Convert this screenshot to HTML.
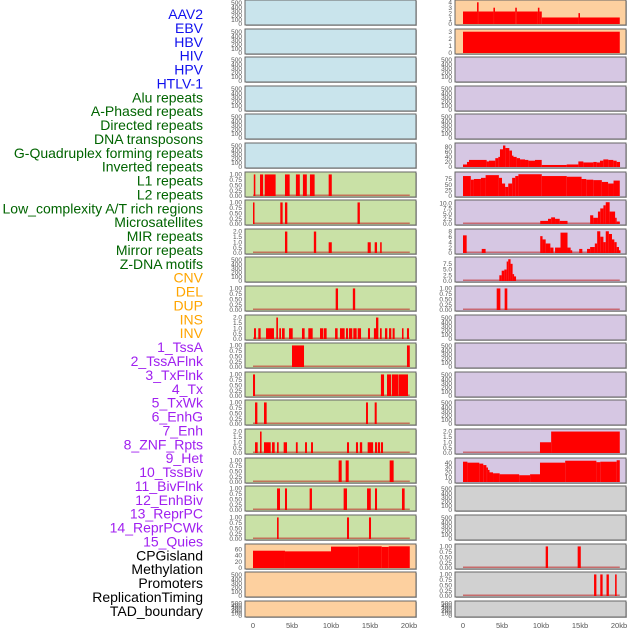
<!DOCTYPE html>
<html><head><meta charset="utf-8"><style>
html,body{margin:0;padding:0;background:#fff;}
svg{display:block;font-family:"Liberation Sans",sans-serif;}
</style></head><body>
<svg id="chart" width="630" height="630" viewBox="0 0 630 630"></svg>
<script>
const labels=["AAV2","EBV","HBV","HIV","HPV","HTLV-1","Alu repeats","A-Phased repeats","Directed repeats","DNA transposons","G-Quadruplex forming repeats","Inverted repeats","L1 repeats","L2 repeats","Low_complexity A/T rich regions","Microsatellites","MIR repeats","Mirror repeats","Z-DNA motifs","CNV","DEL","DUP","INS","INV","1_TssA","2_TssAFlnk","3_TxFlnk","4_Tx","5_TxWk","6_EnhG","7_Enh","8_ZNF_Rpts","9_Het","10_TssBiv","11_BivFlnk","12_EnhBiv","13_ReprPC","14_ReprPCWk","15_Quies","CPGisland","Methylation","Promoters","ReplicationTiming","TAD_boundary"];
const labelGroups=[6,13,5,15,5];
const groupColors=["#1010ee","#006400","#ffa500","#a020f0","#000000"];
const xTicks=[0,5,10,15,20];
const xTickLabels=["0","5kb","10kb","15kb","20kb"];
const rowTops=[0,29,57,86,114,143,172,200,229,257,286,315,343,372,400,429,458,486,515,544,572,601];
const leftFill=["b","b","b","b","b","b","g","g","g","g","g","g","g","g","g","g","g","g","g","o","o","o"];
const rightFill=["o","o","p","p","p","p","p","p","p","p","p","p","p","p","p","p","p","e","e","e","e","e"];
// bar intervals [startKb,endKb,height]
const L6=[[0.1,0.3,1],[0.9,1.3,1],[1.5,2.9,1],[4.1,4.7,1],[5.5,6.0,1],[6.4,6.9,1],[7.3,7.9,1],[9.7,10.1,1]];
const L7=[[0,0.15,1],[3.5,3.8,1],[4.1,4.4,1],[13.4,13.7,1]];
const L8=[[4.1,4.4,2],[7.8,8.1,2],[9.7,10.1,1],[14.7,15.1,1],[15.6,15.9,1],[16.3,16.5,1]];
const L10=[[10.6,10.9,1],[12.8,13.1,1]];
const L11=[[0.13,0.38,1],[0.68,0.98,1],[1.67,2.69,1],[2.99,3.2,2],[3.37,3.59,1],[3.72,4.06,1],[4.62,5.09,1],[6.28,6.62,1],[7.09,7.65,1],[8.59,9.02,1],[9.1,9.44,1],[10.52,10.85,1],[11.15,11.75,1],[11.92,12.18,1],[12.3,12.73,1],[12.86,13.29,1],[13.42,13.85,1],[14.74,15.0,1],[15.5,15.77,1],[15.77,16.07,2],[16.28,16.5,1],[16.92,17.22,1],[17.44,17.73,1],[17.9,18.16,1],[19.1,19.3,1],[19.74,20.0,1]];
const L12=[[5.0,6.54,1],[19.74,20.1,1]];
const L13=[[0,0.26,1],[16.4,16.8,1],[17.18,17.7,1],[17.8,18.6,1],[18.65,19.87,1]];
const L14=[[0.26,0.56,1],[1.41,1.75,1],[14.49,14.74,1],[15.6,15.86,1]];
const L15=[[0.26,0.6,1],[0.9,1.1,2],[1.41,2.27,1],[2.44,2.78,1],[3.08,3.29,1],[3.93,4.36,1],[5.5,5.73,1],[6.67,6.92,1],[7.44,7.69,1],[12.05,12.31,1],[13.2,13.46,1],[13.7,14.0,1],[14.7,15.4,1],[15.64,15.9,1],[16.0,16.28,1],[16.4,16.67,1]];
const L16=[[10.98,11.37,1],[11.88,12.27,1],[17.52,18.03,1]];
const L17=[[3.08,3.46,1],[4.1,4.36,1],[7.26,7.56,1],[11.62,12.05,1],[14.62,15.1,1],[15.64,15.9,1],[19.1,19.44,1]];
const L18=[[3.08,3.29,1],[12.05,12.31,1],[14.87,15.13,1]];
const L19=[[0,4.1,55],[4.1,10,53],[10,13.5,68],[13.5,16.5,69],[16.5,17.4,67],[17.4,20.1,69]];
const R0=[[0,1.8,2.3],[1.8,2.0,4],[2.0,3.9,2.3],[3.9,4.1,3],[4.1,6.7,2.3],[6.7,6.9,3],[6.9,9.6,2.3],[9.6,9.8,3],[9.8,10.1,2.3],[10.1,14.8,1.2],[14.8,15.0,2],[15.0,20.1,1.2]];
const R1=[[0,20.1,3]];
const R5=[[0,0.51,10],[0.51,0.77,20],[0.77,3.03,28],[3.03,3.33,22],[3.33,4.14,25],[4.14,4.53,35],[4.53,4.74,40],[4.74,5.13,70],[5.13,5.43,85],[5.43,5.94,75],[5.94,6.28,65],[6.28,6.45,45],[6.45,6.88,40],[6.88,7.31,35],[7.31,7.95,30],[7.95,8.38,28],[8.38,9.23,25],[9.23,10.09,28],[10.09,13.29,8],[13.29,14.79,10],[14.79,15.43,22],[15.43,16.71,18],[16.71,17.14,20],[17.14,17.56,18],[17.56,17.99,25],[17.99,18.63,30],[18.63,19.27,28],[19.27,19.7,25],[19.7,20.13,20]];
const R6=[[0,1.0,88],[1.0,1.4,72],[1.4,2.3,75],[2.3,2.9,80],[2.9,4.6,92],[4.6,5.0,80],[5.0,5.4,55],[5.4,5.8,40],[5.8,6.3,55],[6.3,6.7,80],[6.7,7.1,88],[7.1,10.1,96],[10.1,13.3,88],[13.3,15.2,85],[15.2,15.8,75],[15.8,16.7,72],[16.7,17.8,70],[17.8,18.6,62],[18.6,19.3,55],[19.3,20.1,68]];
const R7=[[9.9,10.9,1.5],[10.9,11.3,2.5],[11.3,11.8,3.2],[11.8,12.4,2.5],[12.4,13.4,1.5],[16.3,16.7,4.2],[16.7,17.3,3],[17.3,17.6,6],[17.6,18.0,7.5],[18.0,18.3,9],[18.3,18.8,10.5],[18.8,19.1,6],[19.1,19.5,6],[19.5,19.7,3],[19.7,20.1,1.2]];
const R8=[[0,0.47,6.5],[2.4,2.9,1.5],[9.9,10.2,6.2],[10.2,10.6,5],[10.6,11.2,3.5],[11.2,11.6,2],[11.8,12.5,2],[12.5,13.4,7.5],[13.4,13.8,2],[13.8,14.0,1],[14.9,15.3,1.5],[15.9,16.3,1.5],[16.3,16.9,2.2],[16.9,17.2,3.5],[17.2,17.6,8],[17.6,18.0,6],[18.0,18.3,4],[18.3,18.7,8],[18.7,19.1,7],[19.1,19.4,5],[19.4,19.7,4],[19.7,20.0,2.2],[20.0,20.1,1]];
const R9=[[4.66,4.96,2.5],[4.96,5.3,4.5],[5.3,5.6,5],[5.6,5.8,8.5],[5.8,6.1,9.5],[6.1,6.36,7.5],[6.36,6.53,3],[6.53,6.8,2]];
const R10=[[4.32,4.79,1],[5.34,5.68,1]];
const R15=[[9.87,11.3,1],[11.3,20.1,2]];
const R16=[[0,0.56,42],[0.56,2.09,40],[2.09,2.6,38],[2.6,3.0,35],[3.0,3.2,30],[3.2,3.4,25],[3.4,3.85,20],[3.85,4.7,18],[4.7,7.2,16],[7.2,8.6,14],[8.6,9.87,16],[9.87,13.1,40],[13.1,17.1,44],[17.1,17.6,41],[17.6,19.7,42],[19.7,20.1,45]];
const R19=[[10.6,10.9,1],[14.7,15.1,1]];
const R20=[[16.8,17.1,1],[17.6,17.9,1],[18.4,18.7,1],[19.5,19.7,1]];
const T_empty=[0,100,200,300,400,500];
const T_bar1=[0,0.25,0.5,0.75,1.0];
const T_bar2=[0,0.5,1,1.5,2];
// panel specs: [side,row,data,yMax,ticks,tickDigits,baseline]
const panels=[];
for(let r=0;r<22;r++){panels.push(["L",r,null,520,T_empty,0,false]);panels.push(["R",r,null,520,T_empty,0,false]);}
function setP(side,row,data,yMax,ticks,dig,base){const i=panels.findIndex(p=>p[0]===side&&p[1]===row);panels[i]=[side,row,data,yMax,ticks,dig,base];}
setP("L",6,L6,1.02,T_bar1,2,true);setP("L",7,L7,1.02,T_bar1,2,true);setP("L",8,L8,2.05,T_bar2,1,true);
setP("L",10,L10,1.02,T_bar1,2,true);setP("L",11,L11,2.05,T_bar2,1,true);setP("L",12,L12,1.02,T_bar1,2,true);
setP("L",13,L13,1.02,T_bar1,2,true);setP("L",14,L14,1.02,T_bar1,2,true);setP("L",15,L15,2.05,T_bar2,1,true);
setP("L",16,L16,1.02,T_bar1,2,true);setP("L",17,L17,1.02,T_bar1,2,true);setP("L",18,L18,1.02,T_bar1,2,true);
setP("L",19,L19,70,[0,20,40,60],0,false);
setP("R",0,R0,4.05,[0,1,2,3,4],0,false);setP("R",1,R1,3.1,[0,1,2,3],0,false);
setP("R",5,R5,87,[0,20,40,60,80],0,false);setP("R",6,R6,97,[0,25,50,75],0,false);
setP("R",7,R7,10.6,[0,2.5,5,7.5,10],1,true);setP("R",8,R8,8.1,[0,2,4,6,8],0,true);
setP("R",9,R9,9.6,[0,2.5,5,7.5],1,true);setP("R",10,R10,1.02,T_bar1,2,true);
setP("R",15,R15,2.05,T_bar2,1,true);setP("R",16,R16,45.5,[0,10,20,30,40],0,false);
setP("R",19,R19,1.02,T_bar1,2,true);setP("R",20,R20,1.02,T_bar1,2,true);

const fills={b:"#c9e4ec",g:"#c9e1a6",o:"#fdd09f",p:"#d6c7e3",e:"#d1d1d1"};
const svg=document.getElementById("chart");
const NS="http://www.w3.org/2000/svg";
function mk(tag,attrs,parent){const e=document.createElementNS(NS,tag);for(const k in attrs)e.setAttribute(k,attrs[k]);(parent||svg).appendChild(e);return e;}
const panelX={L:245,R:455},panelW=171;
function xScale(side,kb){return panelX[side]+8+kb*7.8;}

// labels
let li=0;
labelGroups.forEach((n,g)=>{for(let k=0;k<n;k++){const t=mk("text",{x:203,y:14+li*13.88+5,"text-anchor":"end","font-size":14,fill:groupColors[g]});t.textContent=labels[li];

li++;}});

panels.forEach(p=>{
  const [side,row,data,yMax,ticks,dig,base]=p;
  const top=rowTops[row],h=row===21?16:25,x0=panelX[side];
  const fc=fills[(side==="L"?leftFill:rightFill)[row]];
  const g=mk("g",{});
  
  
  mk("rect",{x:x0+1,y:top+1,width:panelW,height:h,fill:"#bbb"},g);
  mk("rect",{x:x0,y:top,width:panelW,height:h,fill:fc,stroke:"#666","stroke-width":1},g);
  const bottom=top+h-1;
  const ys=v=>bottom-v/yMax*(h-3);
  ticks.forEach(t=>{const tx=mk("text",{x:x0-3,y:ys(t)+2.2,"text-anchor":"end","font-size":6.5,fill:"#555"},g);tx.textContent=t.toFixed(dig);
    
    });
  if(base){const b=mk("rect",{x:xScale(side,0),y:bottom-1.5,width:xScale(side,20.1)-xScale(side,0),height:1.5,fill:"rgba(190,40,40,0.6)"},g);
    
    }
  if(data){data.forEach(d=>{const xa=xScale(side,d[0]),xb=xScale(side,d[1]);
    const r=mk("rect",{x:xa,y:ys(d[2]),width:Math.max(1.5,xb-xa),height:bottom-ys(d[2]),fill:"#ff0000"},g);
    
    });}
});
["L","R"].forEach(side=>{xTicks.forEach((t,i)=>{const tx=mk("text",{x:xScale(side,t),y:628,"text-anchor":"middle","font-size":7.5,fill:"#555"});tx.textContent=xTickLabels[i];
  
  });});
</script>
</body></html>
